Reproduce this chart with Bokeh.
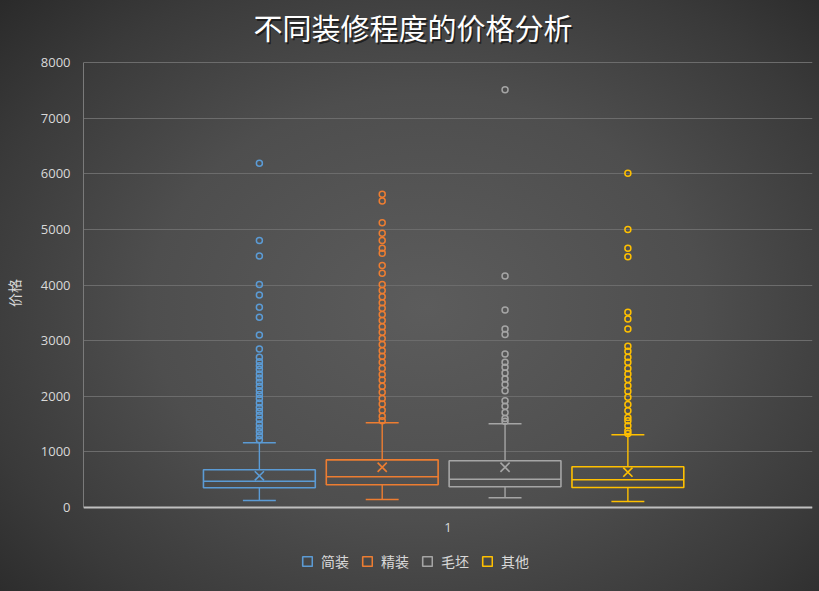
from bokeh.plotting import figure
from bokeh.models import FixedTicker, Legend, LegendItem, Range1d, Span, Label
from bokeh.embed import file_html
from bokeh.resources import INLINE

# ---------------- data ----------------
title_text = "不同装修程度的价格分析"
y_axis_title = "价格"
categories = ["简装", "精装", "毛坯", "其他"]
colors = ["#5B9BD5", "#ED7D31", "#A5A5A5", "#FFC000"]
q1 = [354, 408, 372, 360]
median = [473, 552, 509, 498]
q3 = [678, 857, 840, 732]
mean = [570, 724, 724, 635]
lower_whisker = [126, 144, 174, 108]
upper_whisker = [1163, 1523, 1505, 1307]

outliers_jianzhuang = [6190, 4800, 4520, 4010, 3820, 3600, 3420, 3100, 2850,
                       2700, 2620, 2550, 2480, 2400, 2330, 2250, 2180, 2100, 2030,
                       1960, 1880, 1800, 1730, 1660, 1580, 1500, 1430, 1360, 1290, 1220]
outliers_jingzhuang = [5630, 5510, 5120, 4930, 4800, 4660, 4570, 4350, 4210,
                       4010, 3900, 3790, 3680, 3580, 3470, 3360, 3250, 3150, 3040,
                       2930, 2820, 2720, 2610, 2500, 2390, 2290, 2180, 2070, 1960,
                       1860, 1750, 1640, 1560]
outliers_maopi = [7510, 4160, 3550, 3210, 3110, 2760, 2610, 2520, 2420, 2310,
                  2210, 2100, 1920, 1820, 1710, 1600, 1550]
outliers_qita = [6010, 5000, 4660, 4510, 3510, 3390, 3210, 2900, 2810, 2700,
                 2610, 2500, 2400, 2300, 2190, 2090, 1980, 1850, 1740, 1620,
                 1560, 1470, 1380, 1330]
outliers = [outliers_jianzhuang, outliers_jingzhuang, outliers_maopi, outliers_qita]

y_ticks = [0, 1000, 2000, 3000, 4000, 5000, 6000, 7000, 8000]
y_max = 8000
x_label = "1"

# ---------------- figure ----------------
# the frame spans the full height (px 0..585); value 0 sits at px 507, 8000 at px 62
units_per_px = y_max / (507 - 62)
y_bottom = -(585 - 507) * units_per_px
y_top = y_max + 62 * units_per_px

p = figure(width=819, height=591, output_backend="svg", toolbar_location=None,
           x_range=Range1d(0, 1), y_range=Range1d(y_bottom, y_top),
           x_axis_location=None,
           min_border_left=82, min_border_right=7, min_border_top=0, min_border_bottom=6)
p.border_fill_alpha = 0
p.background_fill_alpha = 0
p.outline_line_color = None
p.styles = {"background": "radial-gradient(ellipse 75% 80% at 52% 52%, #5c5c5c 0%, #4e4e4e 45%, #3a3a3a 75%, #262626 100%)"}

# title (with a soft shadow)
title_x = (412 - 82) / 730
title_y = y_max + (62 - 26) * units_per_px
p.add_layout(Label(x=title_x, y=title_y, text=title_text, text_align="center",
                   text_baseline="middle", text_font="Noto Sans CJK SC", text_font_size="29px",
                   text_color="#000000", text_alpha=0.55, x_offset=1.5, y_offset=-2))
p.add_layout(Label(x=title_x, y=title_y, text=title_text, text_align="center",
                   text_baseline="middle", text_font="Noto Sans CJK SC", text_font_size="29px",
                   text_color="#ffffff"))

group_center = 0.494
step = 0.1685
box_half = 0.0767
cap_half = 0.0226
centers = [group_center + (i - 1.5) * step for i in range(len(categories))]

# bottom axis line
p.add_layout(Span(location=0, dimension="width", line_color="#bfbfbf", line_width=2))

items = []
for i, cat in enumerate(categories):
    c = colors[i]
    x = centers[i]
    r = p.quad(left=[x - box_half], right=[x + box_half], bottom=[q1[i]], top=[q3[i]],
               fill_alpha=0, line_color=c, line_width=1.6)
    p.segment(x0=[x - box_half], x1=[x + box_half], y0=[median[i]], y1=[median[i]],
              line_color=c, line_width=1.6)
    p.segment(x0=[x, x], x1=[x, x], y0=[q3[i], q1[i]], y1=[upper_whisker[i], lower_whisker[i]],
              line_color=c, line_width=1.4)
    p.segment(x0=[x - cap_half, x - cap_half], x1=[x + cap_half, x + cap_half],
              y0=[upper_whisker[i], lower_whisker[i]], y1=[upper_whisker[i], lower_whisker[i]],
              line_color=c, line_width=1.6)
    p.scatter(x=[x], y=[mean[i]], marker="x", size=13, line_color=c, line_width=1.6)
    p.scatter(x=[x] * len(outliers[i]), y=outliers[i], marker="circle", size=6,
              fill_alpha=0, line_color=c, line_width=1.5)
    items.append(LegendItem(label=cat, renderers=[r]))

# category label under the axis
p.add_layout(Label(x=0.5, y=-20 * units_per_px, text=x_label, text_align="center",
                   text_baseline="middle", text_font="Open Sans", text_font_size="13px",
                   text_color="#d9d9d9"))

# y axis
p.yaxis.ticker = FixedTicker(ticks=y_ticks)
p.yaxis.bounds = (0, y_max)
p.yaxis.major_label_text_font = "Open Sans"
p.yaxis.major_label_text_font_size = "13px"
p.yaxis.major_label_text_color = "#d9d9d9"
p.yaxis.major_tick_line_color = None
p.yaxis.major_tick_out = 0
p.yaxis.major_tick_in = 0
p.yaxis.minor_tick_line_color = None
p.yaxis.axis_line_color = "#7a7a7a"
p.yaxis.axis_line_width = 1
p.yaxis.major_label_standoff = 13
p.yaxis.axis_label = y_axis_title
p.yaxis.axis_label_text_font = "Noto Sans CJK SC"
p.yaxis.axis_label_text_font_size = "14px"
p.yaxis.axis_label_text_font_style = "normal"
p.yaxis.axis_label_text_color = "#d9d9d9"
p.yaxis.axis_label_standoff = 14

p.xgrid.grid_line_color = None
p.ygrid.grid_line_color = "#6c6c6c"
p.ygrid.grid_line_width = 1
p.ygrid.bounds = (0, y_max)

legend = Legend(items=items, orientation="horizontal", location=(218, 14),
                background_fill_alpha=0, border_line_alpha=0,
                label_text_color="#d9d9d9", label_text_font="Noto Sans CJK SC",
                label_text_font_size="14px", glyph_width=12, glyph_height=12,
                label_standoff=8, spacing=12, padding=0, margin=0)
p.add_layout(legend, "center")

open("out.html", "w").write(file_html(p, INLINE))
